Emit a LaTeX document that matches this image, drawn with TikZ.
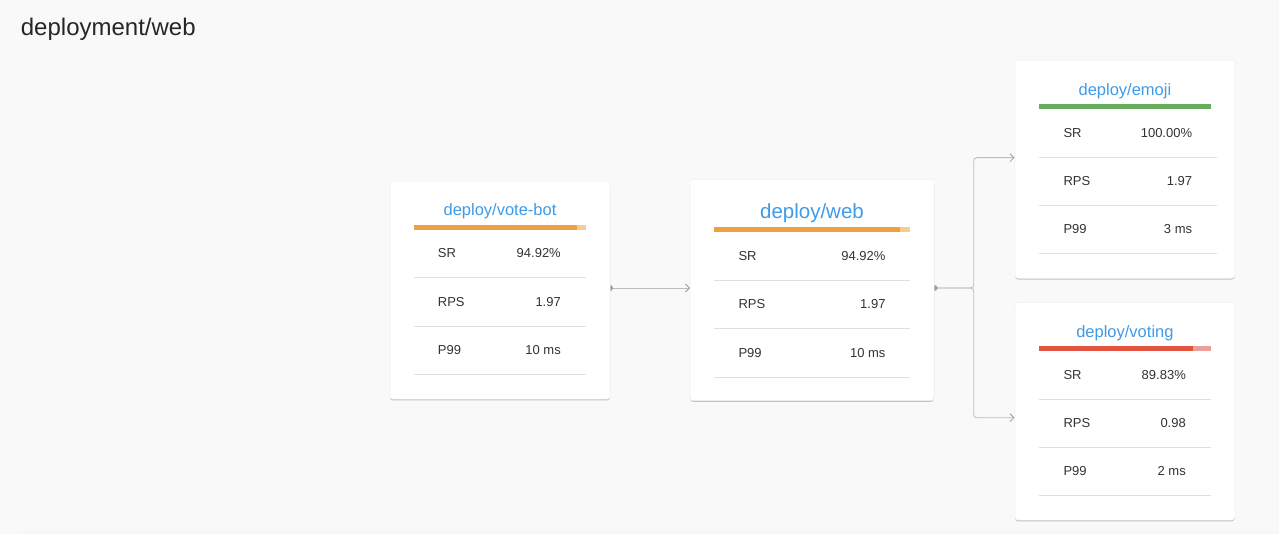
\documentclass[tikz,border=0pt]{standalone}
\usepackage{fontspec}
\setmainfont{Liberation Sans}
\usetikzlibrary{arrows.meta,shadows}

\definecolor{pagebg}{HTML}{F9F9F9}
\definecolor{titleblue}{HTML}{3F9BE8}
\definecolor{textdark}{HTML}{333333}
\definecolor{rowgray}{HTML}{E0E0E0}
\definecolor{linkgray}{HTML}{BDBDBD}
\definecolor{dotgray}{HTML}{9E9E9E}
\definecolor{barorange}{HTML}{F0A03C}
\definecolor{barorangelt}{HTML}{F5CD8E}
\definecolor{bargreen}{HTML}{68AD5B}
\definecolor{barred}{HTML}{E2543F}
\definecolor{barredlt}{HTML}{E8A09A}

\tikzset{
    card/.style={fill=white, draw=black!6, line width=0.5pt, rounded corners=3pt,
        inner sep=0pt, drop shadow={shadow xshift=0pt, shadow yshift=-1.2pt, fill=black, opacity=0.22}},
    cardtitle/.style={anchor=base, inner sep=0pt, text=titleblue, font=\fontsize{16.5}{19}\selectfont},
    metriclabel/.style={anchor=base west, inner sep=0pt, text=textdark, font=\fontsize{13}{15}\selectfont},
    metricvalue/.style={metriclabel, anchor=base east},
    rowline/.style={draw=rowgray, line width=0.8pt},
    linkline/.style={draw=linkgray, line width=0.9pt, rounded corners=3pt,
        -{Straight Barb[length=4pt,width=8pt,line width=0.8pt,color=dotgray]}},
    linkdot/.style={fill=dotgray}
}

% rows of one card: prefix, label x, value x, line from, line to, first row y, SR, RPS, P99
\newcommand{\cardrows}[9]{%
    \foreach \lab/\val [count=\i] in {SR/#7, RPS/#8, P99/#9} {
        \pgfmathsetmacro{\ry}{#6+(\i-1)*48.3}
        \node[metriclabel] (#1-lab-\i) at (#2,\ry+4.7) {\lab};
        \node[metricvalue] (#1-val-\i) at (#3,\ry+4.7) {\val};
        \draw[rowline] (#4,\ry+24.5) -- (#5,\ry+24.5);
    }}

\begin{document}
\begin{tikzpicture}[x=1pt, y=-1pt]
    \useasboundingbox (0,0) rectangle (1279,534);
    \fill[pagebg] (0,0) rectangle (1279,534);
    \fill[black!3] (17,531) rectangle (1279,534);

    \node[anchor=base west, inner sep=0pt, text=black!85, font=\fontsize{24}{28}\selectfont] (heading) at (20.7,36) {deployment/web};

    % link end points
    \coordinate (vb-out) at (610,288);
    \coordinate (web-in) at (690,288);
    \coordinate (web-out) at (934.5,288);
    \coordinate (fork) at (973.7,288);
    \coordinate (emoji-in) at (1014.5,157.7);
    \coordinate (voting-in) at (1014.5,417.7);

    \draw[linkline] (vb-out) -- (web-in);
    \draw[linkline] (web-out) -- (fork) |- (emoji-in);
    \draw[linkline] (web-out) -- (fork) |- (voting-in);
    \fill[linkdot] (vb-out) circle [radius=3pt];
    \fill[linkdot] (web-out) circle [radius=3pt];

    % deploy/vote-bot
    \node[card, minimum width=220pt, minimum height=218pt] (votebot) at (500,290.2) {};
    \node[cardtitle] (votebot-title) at (500,216) {deploy/vote-bot};
    \fill[barorange] (414,225) rectangle (577,230);
    \fill[barorangelt] (577,225) rectangle (586,230);
    \cardrows{vb}{437.7}{561}{414}{586}{253.3}{94.92\%}{1.97}{10 ms}

    % deploy/web
    \node[card, minimum width=244pt, minimum height=221.4pt] (web) at (812,290) {};
    \node[cardtitle, font=\fontsize{20.5}{24}\selectfont] (web-title) at (812,218.3) {deploy/web};
    \fill[barorange] (714,227.3) rectangle (900,231.7);
    \fill[barorangelt] (900,227.3) rectangle (910,231.7);
    \cardrows{web}{738.3}{885.7}{714}{910}{256}{94.92\%}{1.97}{10 ms}

    % deploy/emoji
    \node[card, minimum width=219.7pt, minimum height=218.3pt] (emoji) at (1124.9,169.2) {};
    \node[cardtitle] (emoji-title) at (1124.9,95.7) {deploy/emoji};
    \fill[bargreen] (1039,104) rectangle (1211,109);
    \cardrows{emoji}{1063.3}{1192.3}{1039}{1216.7}{132.5}{100.00\%}{1.97}{3 ms}

    % deploy/voting
    \node[card, minimum width=219.7pt, minimum height=217.7pt] (voting) at (1124.9,411.2) {};
    \node[cardtitle] (voting-title) at (1124.9,337.7) {deploy/voting};
    \fill[barred] (1039,346) rectangle (1193.3,351);
    \fill[barredlt] (1193.3,346) rectangle (1211,351);
    \cardrows{voting}{1063.3}{1186}{1039}{1211}{374.5}{89.83\%}{0.98}{2 ms}
\end{tikzpicture}
\end{document}
